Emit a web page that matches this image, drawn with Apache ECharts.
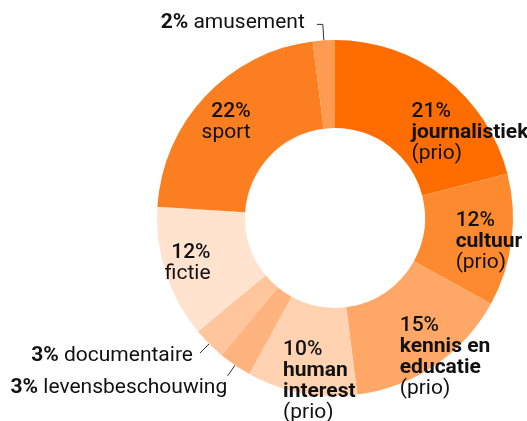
<!DOCTYPE html>
<html>
<head>
<meta charset="utf-8">
<script src="https://cdn.jsdelivr.net/npm/echarts@6/dist/echarts.min.js"></script>
<style>
  html, body { margin: 0; padding: 0; background: #fff; }
  #chart { width: 527px; height: 421px; }
</style>
</head>
<body>
<div id="chart"></div>
<script>
// genres, clockwise from 12 o'clock
const names = ['journalistiek', 'cultuur', 'kennis en\neducatie', 'human\ninterest', 'levensbeschouwing', 'documentaire', 'fictie', 'sport', 'amusement'];
const shares = [21, 12, 15, 10, 3, 3, 12, 22, 2];
const prio = [true, true, true, true, false, false, false, false, false];
const colors = ['#ff6d00', '#fe8a2f', '#ffa766', '#ffd3b1', '#ffb47f', '#ffc59d', '#ffe3cf', '#fb7e20', '#ff9b50'];
const outside = [false, false, false, false, true, true, false, false, true];

const font = 'Roboto, sans-serif';

// label nudges inside the ring
const nudge = [[51, 23], [18, 7], [33, 26], [10, 29], null, null, [-17, 3], [-9, -2], null];
const rightAligned = [false, false, false, false, false, false, true, true, false];
// outside labels: [length, length2, gap, padding]
const lines = [null, null, null, null, [12, 1, 0, [26, 0, 0, 0]], [13, 0, 7, [6, 0, 0, 0]], null, null, [16, 6, 12, [0, 0, 4, 0]]];

const data = names.map((n, i) => {
  const item = { name: n, value: shares[i], itemStyle: { color: colors[i] } };
  if (outside[i]) {
    item.label = {
      position: 'outside',
      distanceToLabelLine: lines[i][2],
      padding: lines[i][3],
      formatter: '{pb|{c}%} {n|{b}}'
    };
    item.labelLine = { show: true, length: lines[i][0], length2: lines[i][1] };
  } else {
    const s = rightAligned[i] ? 'R' : '';
    item.label = {
      position: 'inside',
      offset: nudge[i],
      formatter: prio[i]
        ? '{p' + s + '|{c}%}\n{b' + s + '|{b}}\n{n' + s + '|(prio)}'
        : '{p' + s + '|{c}%}\n{n' + s + '|{b}}'
    };
    item.labelLine = { show: false };
  }
  return item;
});

const base = { fontFamily: font, fontSize: 21, lineHeight: 21, color: '#111' };
const rich = {
  p: Object.assign({}, base, { fontWeight: 500, align: 'left' }),
  b: Object.assign({}, base, { fontWeight: 'bold', align: 'left' }),
  n: Object.assign({}, base, { fontWeight: 'normal', align: 'left' }),
  pR: Object.assign({}, base, { fontWeight: 500, align: 'right' }),
  bR: Object.assign({}, base, { fontWeight: 'bold', align: 'right' }),
  nR: Object.assign({}, base, { fontWeight: 'normal', align: 'right' }),
  pb: Object.assign({}, base, { fontWeight: 'bold' })
};

const chart = echarts.init(document.getElementById('chart'));
chart.setOption({
  animation: false,
  series: [{
    type: 'pie',
    center: [335, 218],
    radius: [90, 178],
    startAngle: 90,
    clockwise: true,
    avoidLabelOverlap: false,
    labelLayout: { hideOverlap: false },
    itemStyle: { borderWidth: 0 },
    label: {
      show: true,
      color: '#111',
      fontFamily: font,
      fontSize: 21,
      lineHeight: 21,
      rich: rich
    },
    labelLine: {
      lineStyle: { color: '#333', width: 1 },
      smooth: false
    },
    emphasis: { disabled: true },
    data: data
  }]
});
</script>
</body>
</html>
